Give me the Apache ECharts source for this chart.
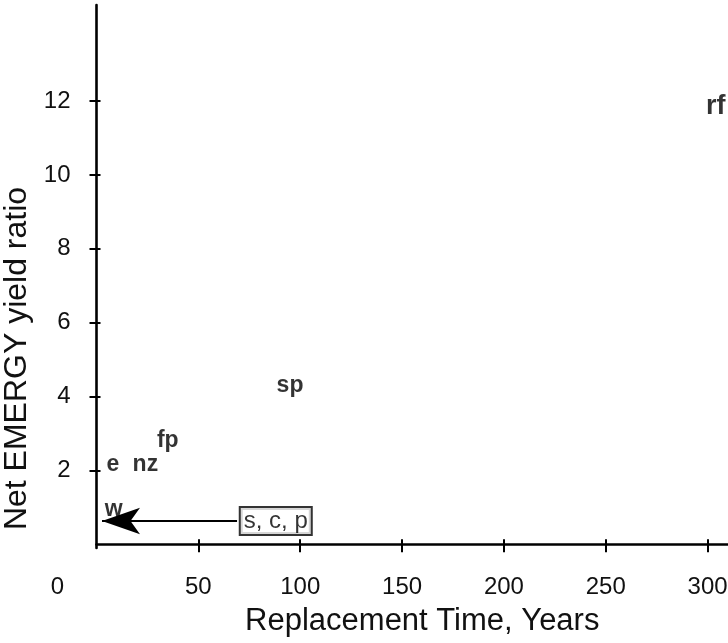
<!DOCTYPE html>
<html>
<head>
<meta charset="utf-8">
<script src="https://cdn.jsdelivr.net/npm/echarts@6/dist/echarts.min.js"></script>
<style>html,body{margin:0;padding:0;background:#fff}#c{width:728px;height:643px}</style>
</head>
<body>
<div id="c"></div>
<script>
// Data
const pointNames = ['rf', 'sp', 'fp', 'nz', 'e', 'w'];
const replacementYears = [304, 95, 35, 24, 8, 8.5];
const netYieldRatio = [11.85, 4.3, 2.8, 2.15, 2.15, 0.95];
const boxName = 's, c, p';
const boxPoint = [88, 0.63];
const arrowStart = [69, 0.63];
const arrowEnd = [2.7, 0.63];
const xTickValues = [0, 50, 100, 150, 200, 250, 300];
const yTickValues = [2, 4, 6, 8, 10, 12];

const font = 'Liberation Sans, Arial, Helvetica, sans-serif';
const chart = echarts.init(document.getElementById('c'));

const pointData = pointNames.map((n, i) => ({
  name: n,
  value: [replacementYears[i], netYieldRatio[i]],
  label: n === 'rf' ? { fontSize: 27 } : undefined
}));

const axisCommon = { lineStyle: { color: '#000', width: 2.6 } };

chart.setOption({
  animation: false,
  backgroundColor: '#fff',
  grid: { left: 96.5, right: 0, top: 5, bottom: 95, containLabel: false, outerBoundsMode: 'none' },
  xAxis: [{
    type: 'value', min: 0, max: 310,
    axisLine: axisCommon,
    axisTick: { show: true, length: 8, lineStyle: { color: '#000', width: 2 }, customValues: xTickValues.slice(1) },
    axisLabel: {
      customValues: xTickValues, margin: 27, color: '#111', fontSize: 24, fontFamily: font,
      formatter: v => v === 0 ? '{z|0}' : String(v),
      rich: { z: { fontSize: 24, fontFamily: font, color: '#111', padding: [0, 78, 0, 0] } }
    },
    splitLine: { show: false },
    name: 'Replacement Time, Years', nameLocation: 'middle', nameGap: 58,
    nameTextStyle: { fontSize: 31, fontFamily: font, color: '#111', padding: [0, 0, 0, 20] }
  }, {
    type: 'value', min: 0, max: 310, position: 'bottom',
    axisLine: { show: false },
    axisTick: { show: true, inside: true, length: 5, lineStyle: { color: '#000', width: 2 }, customValues: xTickValues.slice(1) },
    axisLabel: { show: false }, splitLine: { show: false }
  }],
  yAxis: [{
    type: 'value', min: -0.1, max: 14.6,
    axisLine: axisCommon,
    axisTick: { show: true, length: 7, lineStyle: { color: '#000', width: 2 }, customValues: yTickValues },
    axisLabel: { customValues: yTickValues, margin: 26, color: '#111', fontSize: 24, fontFamily: font },
    splitLine: { show: false },
    name: 'Net EMERGY yield ratio', nameLocation: 'middle', nameGap: 58,
    nameTextStyle: { fontSize: 32, fontFamily: font, color: '#111', padding: [0, 164, 0, 0] }
  }, {
    type: 'value', min: -0.1, max: 14.6, position: 'left',
    axisLine: { show: false },
    axisTick: { show: true, inside: true, length: 4, lineStyle: { color: '#000', width: 2 }, customValues: yTickValues },
    axisLabel: { show: false }, splitLine: { show: false }
  }],
  series: [{
    type: 'scatter', xAxisIndex: 0, yAxisIndex: 0,
    symbolSize: 0,
    data: pointData,
    label: {
      show: true, position: 'inside', formatter: '{b}',
      fontSize: 23, fontWeight: 'bold', fontFamily: font, color: '#000'
    },
    emphasis: { disabled: true }
  }, {
    type: 'scatter', xAxisIndex: 0, yAxisIndex: 0,
    symbolSize: 0,
    data: [{ name: boxName, value: boxPoint }],
    label: {
      show: true, position: 'inside', formatter: '{b}',
      fontSize: 24, fontFamily: font, color: '#000',
      borderColor: '#000', borderWidth: 2, padding: [1, 3, 1, 3], backgroundColor: '#fff'
    },
    markLine: {
      silent: true, symbol: ['none', 'arrow'], symbolSize: [20, 38],
      label: { show: false },
      lineStyle: { color: '#000', width: 1.8, type: 'solid' },
      data: [[{ coord: arrowStart }, { coord: arrowEnd }]]
    },
    emphasis: { disabled: true }
  }]
});
</script>
</body>
</html>
